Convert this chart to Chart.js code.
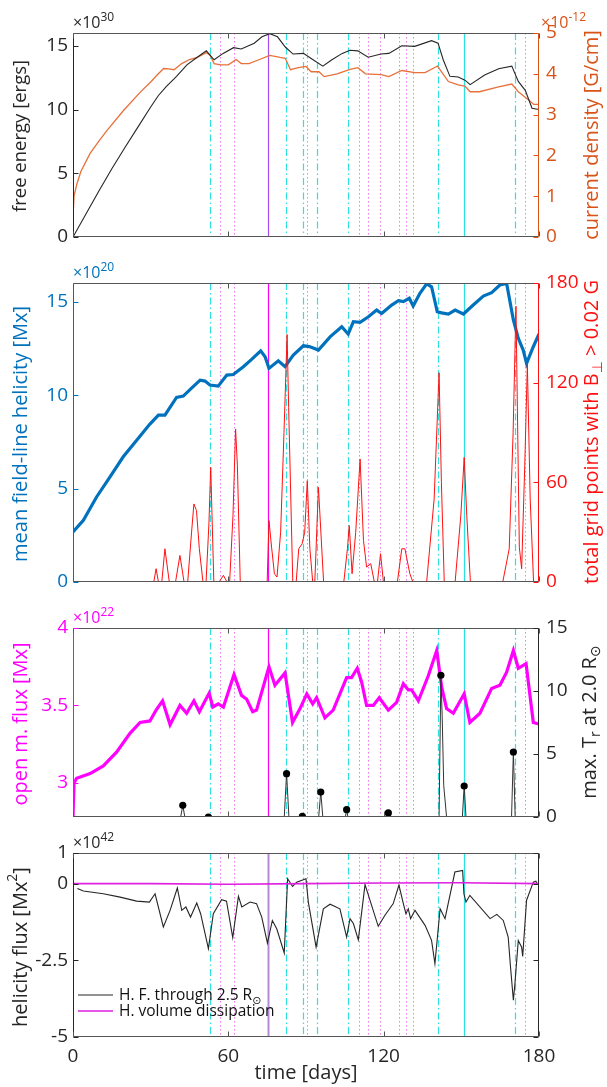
<!DOCTYPE html>
<html>
<head>
<meta charset="utf-8">
<script src="https://cdn.jsdelivr.net/npm/chart.js@4.4.0/dist/chart.umd.min.js"></script>
<style>
    html, body { margin: 0; padding: 0; background: #fff; }
    #wrap { position: relative; width: 607px; height: 1087px; }
    #wrap canvas { position: absolute; left: 0; top: 0; }
</style>
</head>
<body>
<div id="wrap">
    <canvas id="p1" width="607" height="1087"></canvas>
    <canvas id="p2" width="607" height="1087"></canvas>
    <canvas id="p3" width="607" height="1087"></canvas>
    <canvas id="p4" width="607" height="1087"></canvas>
</div>
<script>
// --- shared time axis and event markers (days) ---
const dayTicks = [0, 60, 120, 180];
const dashDays = [53.1, 82.3, 89.0, 94.4, 106.4, 140.8, 170.6];
const dotDays = [56.7, 62.3, 90.5, 110.6, 113.9, 118.4, 126.0, 128.6, 131.3, 174.7];
const solidMagentaDay = 75.5;
const solidCyanDay = 151.0;

// --- panel 1: free energy (x1e30 ergs) and current density (x1e-12 G/cm) ---
const energyDays = [0, 5, 10, 15, 20, 25, 30, 33, 36, 40, 44, 48, 51.5, 54.5, 58, 62, 65, 70, 73, 76, 79, 82, 85, 89, 92, 96.5, 100, 104, 107, 110, 114, 119, 122, 127, 132, 138.5, 141, 143, 145.6, 148.8, 151.4, 153.4, 159, 164.4, 169.5, 172, 174.7, 177.3, 180];
const freeEnergy = [0, 1.8, 3.6, 5.35, 7.0, 8.6, 10.2, 11.1, 11.8, 12.6, 13.5, 14.1, 14.6, 13.9, 14.4, 14.85, 14.75, 15.2, 15.7, 15.95, 15.7, 14.9, 14.35, 14.4, 14.0, 13.4, 13.9, 14.4, 14.65, 14.6, 14.1, 14.35, 14.4, 15.0, 14.95, 15.4, 15.2, 13.9, 12.6, 12.55, 12.3, 11.95, 12.7, 13.2, 13.4, 12.2, 11.5, 10.1, 10.0];
const currentDays = [0, 0.4, 1.5, 3, 6.6, 10, 13, 19.5, 26, 30, 32.5, 35, 37, 39, 42, 45, 48, 51.5, 53, 54.5, 57, 60, 63, 65, 68, 72, 76, 80, 82, 84, 87, 90, 92, 95, 97, 102, 107, 110, 113, 119, 122, 127, 132, 136, 140.8, 145, 148.8, 151.4, 153.4, 157, 164.4, 169.5, 172, 176, 178, 180];
const currentDensity = [0.5, 1.0, 1.3, 1.6, 2.05, 2.35, 2.6, 3.1, 3.55, 3.8, 3.97, 4.13, 4.12, 4.1, 4.25, 4.35, 4.4, 4.52, 4.45, 4.25, 4.22, 4.22, 4.35, 4.25, 4.25, 4.35, 4.45, 4.4, 4.38, 4.1, 4.15, 4.18, 4.05, 4.05, 3.93, 4.0, 4.11, 4.15, 4.0, 3.98, 3.93, 4.08, 4.03, 4.03, 4.19, 3.81, 3.73, 3.7, 3.56, 3.56, 3.68, 3.75, 3.56, 3.36, 3.25, 3.25];

// --- panel 2: mean field-line helicity (x1e20 Mx) and grid points count ---
const helicityDays = [0, 4, 9.1, 14.3, 19.4, 24.6, 29.7, 33, 35.5, 40, 42.6, 46, 49.1, 51, 52.9, 56.1, 59.4, 61.9, 65.8, 69, 72.5, 74.2, 75.7, 79.3, 81.9, 85.1, 89, 91.3, 94.8, 99.3, 103.8, 106.3, 108.3, 110.9, 114.1, 117.3, 119.2, 123.1, 125.7, 127.6, 129.9, 131.4, 134, 136.6, 138.5, 140.7, 142.4, 145, 147.6, 150.8, 154.6, 158.5, 161.7, 164.9, 167.5, 170.1, 172, 173.9, 175.2, 177.8, 180];
const helicity = [2.68, 3.3, 4.55, 5.62, 6.7, 7.59, 8.45, 8.93, 8.93, 9.88, 9.95, 10.4, 10.8, 10.75, 10.54, 10.48, 11.07, 11.1, 11.52, 11.91, 12.37, 12.05, 11.43, 11.84, 11.52, 12.14, 12.64, 12.6, 12.41, 13.12, 13.66, 13.27, 13.93, 13.9, 14.19, 14.55, 14.37, 14.82, 15.05, 15.0, 15.18, 14.77, 15.45, 15.95, 15.8, 14.46, 14.4, 14.34, 14.55, 14.34, 14.82, 15.3, 15.48, 15.89, 15.97, 14.02, 13.04, 12.41, 11.7, 12.59, 13.27];
const gridDays = [0, 31.2, 32.1, 33, 34.3, 35.5, 37.2, 39.6, 41.3, 42.9, 44.3, 45.8, 46.7, 47.7, 48.8, 50.2, 51.4, 52.5, 53.2, 53.7, 54.4, 56.4, 58.1, 59.5, 60.5, 61.8, 62.8, 63.5, 64.6, 75.0, 75.7, 76.7, 77.8, 78.8, 80.2, 81.5, 82.7, 83.3, 84.9, 86.2, 87.2, 88.5, 89.5, 90.5, 91.5, 92.6, 93.4, 94.8, 96.8, 104.6, 106.0, 106.7, 107.8, 109.2, 110.9, 112.2, 113.4, 115, 116.4, 117.6, 118.8, 119.9, 125.3, 127, 128.2, 130.1, 131.3, 136.6, 139.5, 141.4, 142.3, 143.4, 147.6, 149.8, 151.1, 152.1, 153.5, 166.0, 168.5, 170, 171.1, 172.4, 173.3, 174.5, 175.5, 176.6, 177.9, 180];
const gridPoints = [0, 0, 8, 0, 0, 20, 0, 0, 16, 0, 0, 30, 47, 43, 20, 0, 0, 35, 69, 40, 0, 0, 4, 0, 0, 40, 92, 70, 0, 0, 37, 21, 5, 3, 30, 90, 149, 105, 0, 0, 20, 23, 30, 61, 20, 0, 0, 57, 0, 0, 20, 34, 5, 30, 74, 25, 9, 11, 0, 0, 17, 0, 0, 20, 20, 5, 0, 0, 50, 126, 60, 0, 0, 40, 75, 40, 0, 0, 20, 90, 166, 21, 8, 70, 131, 50, 0, 0];

// --- panel 3: open magnetic flux (x1e22 Mx) and max. Tr spikes ---
const openDays = [0, 0.4, 1.4, 6.6, 11.7, 16.9, 22, 25.9, 29.7, 32.1, 34.6, 37.5, 41.3, 43.9, 46.7, 48.8, 52.6, 54, 56.1, 58.1, 62.2, 65.1, 67.1, 69.4, 70.9, 75.7, 78, 81.9, 84.8, 87.7, 90.3, 92.6, 94.1, 97.3, 100.5, 105.7, 107.6, 109.8, 111.5, 113.4, 116, 118.3, 121.8, 125, 127.6, 129.5, 130.8, 133.4, 137.2, 140.5, 142.4, 144.3, 146.9, 151.1, 153.3, 157.2, 161.7, 164.9, 167.5, 170.1, 172, 175, 177.8, 180];
const openFlux = [2.78, 3.0, 3.03, 3.06, 3.11, 3.2, 3.32, 3.39, 3.40, 3.47, 3.53, 3.375, 3.50, 3.45, 3.53, 3.46, 3.58, 3.49, 3.51, 3.49, 3.70, 3.565, 3.54, 3.46, 3.47, 3.75, 3.63, 3.71, 3.39, 3.48, 3.575, 3.51, 3.55, 3.42, 3.47, 3.68, 3.68, 3.74, 3.65, 3.5, 3.5, 3.55, 3.47, 3.52, 3.64, 3.60, 3.60, 3.53, 3.69, 3.855, 3.62, 3.48, 3.45, 3.575, 3.39, 3.45, 3.61, 3.63, 3.715, 3.855, 3.74, 3.77, 3.39, 3.38];
const trDays = [0, 41.6, 42.4, 43.2, 81.6, 82.5, 83.4, 94.9, 95.7, 96.5, 105.2, 105.7, 106.2, 121.2, 121.8, 122.4, 141.4, 142.1, 142.6, 143.2, 144.3, 150.4, 151.1, 151.8, 169.4, 170.1, 170.8, 180];
const maxTr = [0, 0, 0.93, 0, 0, 3.44, 0, 0, 1.98, 0, 0, 0.58, 0, 0, 0.32, 0, 0, 11.25, 8, 2.5, 0, 0, 2.46, 0, 0, 5.16, 0, 0];
const trPeakDays = [42.4, 52.3, 82.5, 88.6, 95.7, 105.7, 121.8, 142.1, 151.1, 170.1];
const trPeaks = [0.93, 0.0, 3.44, 0.05, 1.98, 0.58, 0.32, 11.25, 2.46, 5.16];

// --- panel 4: helicity flux (x1e42 Mx^2) ---
const fluxDays = [1.7, 4, 11.7, 18.2, 24.6, 29.5, 31.7, 34.9, 37.5, 40.3, 42, 43.6, 45.4, 47.8, 49.3, 52.3, 54.2, 57.4, 59.3, 61.7, 63.9, 65.2, 68.4, 70.9, 72.9, 75.1, 77, 78.7, 81.6, 82.9, 84.8, 86.4, 90, 90.9, 93.9, 96.7, 99.3, 103.1, 105.7, 107, 108.3, 110.2, 112.8, 117.9, 120.5, 123.7, 125.9, 127.6, 128.6, 129.5, 130.4, 132.1, 136, 138.5, 139.8, 141.8, 143.7, 147.5, 150.5, 151, 151.8, 153.3, 161.1, 163.7, 166.2, 168.1, 169, 170.1, 170.7, 172, 173.3, 173.7, 175.2, 177.8, 178.8, 179.3];
const helicityFlux = [-0.16, -0.24, -0.33, -0.44, -0.57, -0.6, -0.33, -1.41, -0.87, -0.14, -0.87, -0.76, -1.09, -0.63, -0.98, -2.12, -0.98, -0.52, -0.57, -1.76, -0.41, -0.76, -0.6, -0.65, -1.09, -1.94, -1.2, -1.47, -2.26, 0.16, -0.09, 0.05, 0.16, -0.6, -2.07, -0.82, -0.67, -0.82, -1.74, -1.14, -1.3, -1.83, -0.03, -1.39, -1.03, -0.65, -0.05, -0.65, -0.98, -0.82, -1.14, -0.87, -1.36, -1.85, -2.61, -0.82, -1.14, 0.38, 0.43, -0.33, -0.6, -0.38, -1.14, -1.0, -1.2, -1.74, -2.72, -3.8, -3.26, -1.85, -2.07, -2.37, -0.54, 0.05, 0.08, 0.0];
const dissDays = [0, 30, 60, 90, 120, 150, 180];
const dissipation = [0, 0, -0.02, 0, 0.02, 0.03, 0];

// --- layout ---
const W = 607, H = 1087;
const PLOT_L = 73, PLOT_R = 539;
const SANS = "'Open Sans', 'DejaVu Sans', sans-serif";
const DARK = '#262626';
const ORANGE = '#D95319', BLUE = '#0072BD', RED = '#FF1010', MAGENTA = '#FF00FF', CYAN = '#2FE0E0';

Chart.defaults.font.family = SANS;
Chart.defaults.animation = false;

const pts = (xs, ys) => xs.map((x, i) => ({ x, y: ys[i] }));

function xAxis(bottom, showLabels) {
    return {
        type: 'linear', min: 0, max: 180,
        grid: { display: false, drawTicks: false }, border: { display: false },
        ticks: { display: showLabels, autoSkip: false, maxRotation: 0, padding: 8, color: DARK, font: { size: 19 }, callback: v => String(v) },
        afterBuildTicks: s => { s.ticks = dayTicks.map(v => ({ value: v })); },
        afterFit: s => { s.height = H - bottom; }
    };
}

function yAxis(pos, min, max, ticks, color, show = true) {
    return {
        type: 'linear', position: pos, min, max,
        grid: { display: false, drawTicks: false }, border: { display: false },
        ticks: { display: show, autoSkip: false, color, padding: pos === 'left' ? 5 : 7, font: { size: 19 }, callback: v => String(v) },
        afterBuildTicks: s => { s.ticks = ticks.map(v => ({ value: v })); },
        afterFit: s => { s.width = pos === 'left' ? PLOT_L : W - PLOT_R; }
    };
}

// text with sub/superscripts: runs = [[text, 0|1|-1], ...]
function drawRuns(ctx, it) {
    const size = it.size, small = Math.round(size * 0.72);
    const font = k => (k ? small : size) + 'px ' + SANS;
    ctx.save();
    ctx.translate(it.x, it.y);
    if (it.rot) ctx.rotate(it.rot);
    ctx.fillStyle = it.color;
    ctx.textBaseline = it.baseline || 'middle';
    ctx.textAlign = 'left';
    let w = 0;
    it.runs.forEach(([t, k]) => { ctx.font = font(k); w += ctx.measureText(t).width; });
    let cx = it.align === 'left' ? 0 : -w / 2;
    it.runs.forEach(([t, k]) => {
        ctx.font = font(k);
        const dy = k === 1 ? -size * 0.42 : k === -1 ? size * 0.32 : 0;
        ctx.fillText(t, cx, dy);
        cx += ctx.measureText(t).width;
    });
    ctx.restore();
}

const framePlugin = {
    id: 'frame',
    beforeDatasetsDraw(chart, args, o) {
        const { ctx, chartArea: a } = chart;
        const xs = chart.scales.x;
        ctx.save();
        ctx.beginPath();
        ctx.rect(a.left, a.top, a.right - a.left, a.bottom - a.top);
        ctx.clip();
        const vline = (d, color, width, dash) => {
            const px = Math.round(xs.getPixelForValue(d)) + 0.5;
            ctx.strokeStyle = color;
            ctx.lineWidth = width;
            ctx.setLineDash(dash);
            ctx.beginPath();
            ctx.moveTo(px, a.top);
            ctx.lineTo(px, a.bottom);
            ctx.stroke();
        };
        dotDays.forEach(d => vline(d, '#EE77EE', 1, [1.5, 2.5]));
        dashDays.forEach(d => vline(d, CYAN, 1.2, [7, 3, 1.5, 3]));
        vline(solidMagentaDay, o.solidColor, o.solidWidth, []);
        vline(solidCyanDay, CYAN, 1.3, []);
        ctx.restore();
    },
    afterDraw(chart, args, o) {
        const { ctx, chartArea: a } = chart;
        const xs = chart.scales.x, yl = chart.scales.y, yr = chart.scales.y1;
        const L = a.left + 0.5, R = a.right - 0.5, T = a.top + 0.5, B = a.bottom - 0.5;
        const TL = 5;
        ctx.save();
        ctx.lineWidth = 1;
        ctx.setLineDash([]);
        const seg = (x1, y1, x2, y2, c) => {
            ctx.strokeStyle = c;
            ctx.beginPath(); ctx.moveTo(x1, y1); ctx.lineTo(x2, y2); ctx.stroke();
        };
        seg(L, T, R, T, '#555');
        seg(L, B, R, B, '#555');
        seg(L, T, L, B, o.leftColor);
        seg(R, T, R, B, o.rightColor);
        dayTicks.forEach(d => {
            const px = Math.round(xs.getPixelForValue(d)) + 0.5;
            seg(px, B, px, B - TL, '#555');
            seg(px, T, px, T + TL, '#555');
        });
        o.leftTicks.forEach(v => {
            const py = Math.round(yl.getPixelForValue(v)) + 0.5;
            seg(L, py, L + TL, py, o.leftColor);
            if (!o.rightTicks) seg(R, py, R - TL, py, o.rightColor);
        });
        (o.rightTicks || []).forEach(v => {
            const py = Math.round(yr.getPixelForValue(v)) + 0.5;
            seg(R, py, R - TL, py, o.rightColor);
        });
        ctx.restore();
        (o.texts || []).forEach(it => drawRuns(ctx, it));
        if (o.legend) {
            ctx.save();
            o.legend.forEach(e => {
                ctx.strokeStyle = e.color;
                ctx.lineWidth = e.width;
                ctx.beginPath(); ctx.moveTo(78, e.y); ctx.lineTo(113, e.y); ctx.stroke();
                drawRuns(ctx, { runs: e.runs, x: 119, y: e.y + 1, size: 15.5, color: '#111', align: 'left' });
            });
            ctx.restore();
        }
    }
};

const ROT = -Math.PI / 2;
const expLabel = (x, y, sup, color) => ({ runs: [['\u00d710', 0], [sup, 1]], x, y, size: 16, color, align: 'left', baseline: 'alphabetic' });

function makeChart(id, top, bottom, showX, datasets, scales, frame) {
    return new Chart(document.getElementById(id), {
        type: 'line',
        data: { datasets },
        options: {
            responsive: false,
            animation: false,
            events: [],
            layout: { padding: { top, left: 0, right: 0, bottom: 0 } },
            elements: { point: { radius: 0 }, line: { tension: 0 } },
            scales: Object.assign({ x: xAxis(bottom, showX) }, scales),
            plugins: { legend: { display: false }, tooltip: { enabled: false }, frame }
        },
        plugins: [framePlugin]
    });
}

// panel 1
makeChart('p1', 33, 237, false, [
    { data: pts(energyDays, freeEnergy), yAxisID: 'y', borderColor: DARK, borderWidth: 1.1, order: 0 },
    { data: pts(currentDays, currentDensity), yAxisID: 'y1', borderColor: '#E8703A', borderWidth: 1.3, order: 1 }
], {
    y: yAxis('left', 0, 16, [0, 5, 10, 15], DARK),
    y1: yAxis('right', 0, 5, [0, 1, 2, 3, 4, 5], ORANGE)
}, {
    solidColor: '#A24DF0', solidWidth: 1.2,
    leftColor: DARK, rightColor: ORANGE,
    leftTicks: [0, 5, 10, 15], rightTicks: [0, 1, 2, 3, 4, 5],
    texts: [
        expLabel(73, 28, '30', DARK),
        expLabel(541, 28, '-12', ORANGE),
        { runs: [['free energy [ergs]', 0]], x: 21, y: 136, rot: ROT, size: 18.5, color: DARK },
        { runs: [['current density [G/cm]', 0]], x: 592, y: 135, rot: ROT, size: 20, color: ORANGE }
    ]
});

// panel 2
makeChart('p2', 283, 582, false, [
    { data: pts(helicityDays, helicity), yAxisID: 'y', borderColor: BLUE, borderWidth: 3.2, order: 1 },
    { data: pts(gridDays, gridPoints), yAxisID: 'y1', borderColor: RED, borderWidth: 1, order: 0 }
], {
    y: yAxis('left', 0, 16, [0, 5, 10, 15], BLUE),
    y1: yAxis('right', 0, 180, [0, 60, 120, 180], RED)
}, {
    solidColor: MAGENTA, solidWidth: 1.2,
    leftColor: BLUE, rightColor: RED,
    leftTicks: [0, 5, 10, 15], rightTicks: [0, 60, 120, 180],
    texts: [
        expLabel(73, 278, '20', BLUE),
        { runs: [['mean field-line helicity [Mx]', 0]], x: 21, y: 434, rot: ROT, size: 20, color: BLUE },
        { runs: [['total grid points with B', 0], ['\u22a5', -1], [' > 0.02 G', 0]], x: 592, y: 432, rot: ROT, size: 20, color: RED }
    ]
});

// panel 3
makeChart('p3', 628, 817, false, [
    { data: pts(trPeakDays, trPeaks), yAxisID: 'y1', showLine: false, pointRadius: 3.6, pointBackgroundColor: '#000', pointBorderWidth: 0, order: 0 },
    { data: pts(trDays, maxTr), yAxisID: 'y1', borderColor: '#333', borderWidth: 1, order: 1 },
    { data: pts(openDays, openFlux), yAxisID: 'y', borderColor: MAGENTA, borderWidth: 3.2, order: 2 }
], {
    y: yAxis('left', 2.78, 4, [3, 3.5, 4], MAGENTA),
    y1: yAxis('right', 0, 15, [0, 5, 10, 15], DARK)
}, {
    solidColor: MAGENTA, solidWidth: 1.2,
    leftColor: MAGENTA, rightColor: DARK,
    leftTicks: [3, 3.5, 4], rightTicks: [0, 5, 10, 15],
    texts: [
        expLabel(73, 623, '22', MAGENTA),
        { runs: [['open m. flux [Mx]', 0]], x: 21, y: 724, rot: ROT, size: 20, color: MAGENTA },
        { runs: [['max. T', 0], ['r', -1], [' at 2.0 R', 0], ['\u2299', -1]], x: 590, y: 722, rot: ROT, size: 20, color: DARK }
    ]
});

// panel 4
makeChart('p4', 853, 1037, true, [
    { data: pts(dissDays, dissipation), yAxisID: 'y', borderColor: '#E020E0', borderWidth: 1.6, order: 0 },
    { data: pts(fluxDays, helicityFlux), yAxisID: 'y', borderColor: DARK, borderWidth: 1.1, order: 1 }
], {
    y: yAxis('left', -5, 1, [-5, -2.5, 0, 1], DARK),
    y1: yAxis('right', -5, 1, [], DARK, false)
}, {
    solidColor: '#B48AD8', solidWidth: 2,
    leftColor: DARK, rightColor: DARK,
    leftTicks: [-5, -2.5, 0, 1],
    texts: [
        expLabel(73, 848, '42', DARK),
        { runs: [['helicity flux [Mx', 0], ['2', 1], [']', 0]], x: 21, y: 947, rot: ROT, size: 20, color: DARK },
        { runs: [['time [days]', 0]], x: 306, y: 1073, size: 20, color: DARK }
    ],
    legend: [
        { y: 995, color: DARK, width: 1.2, runs: [['H. F. through 2.5 R', 0], ['\u2299', -1]] },
        { y: 1011, color: '#E020E0', width: 1.6, runs: [['H. volume dissipation', 0]] }
    ]
});
</script>
</body>
</html>
